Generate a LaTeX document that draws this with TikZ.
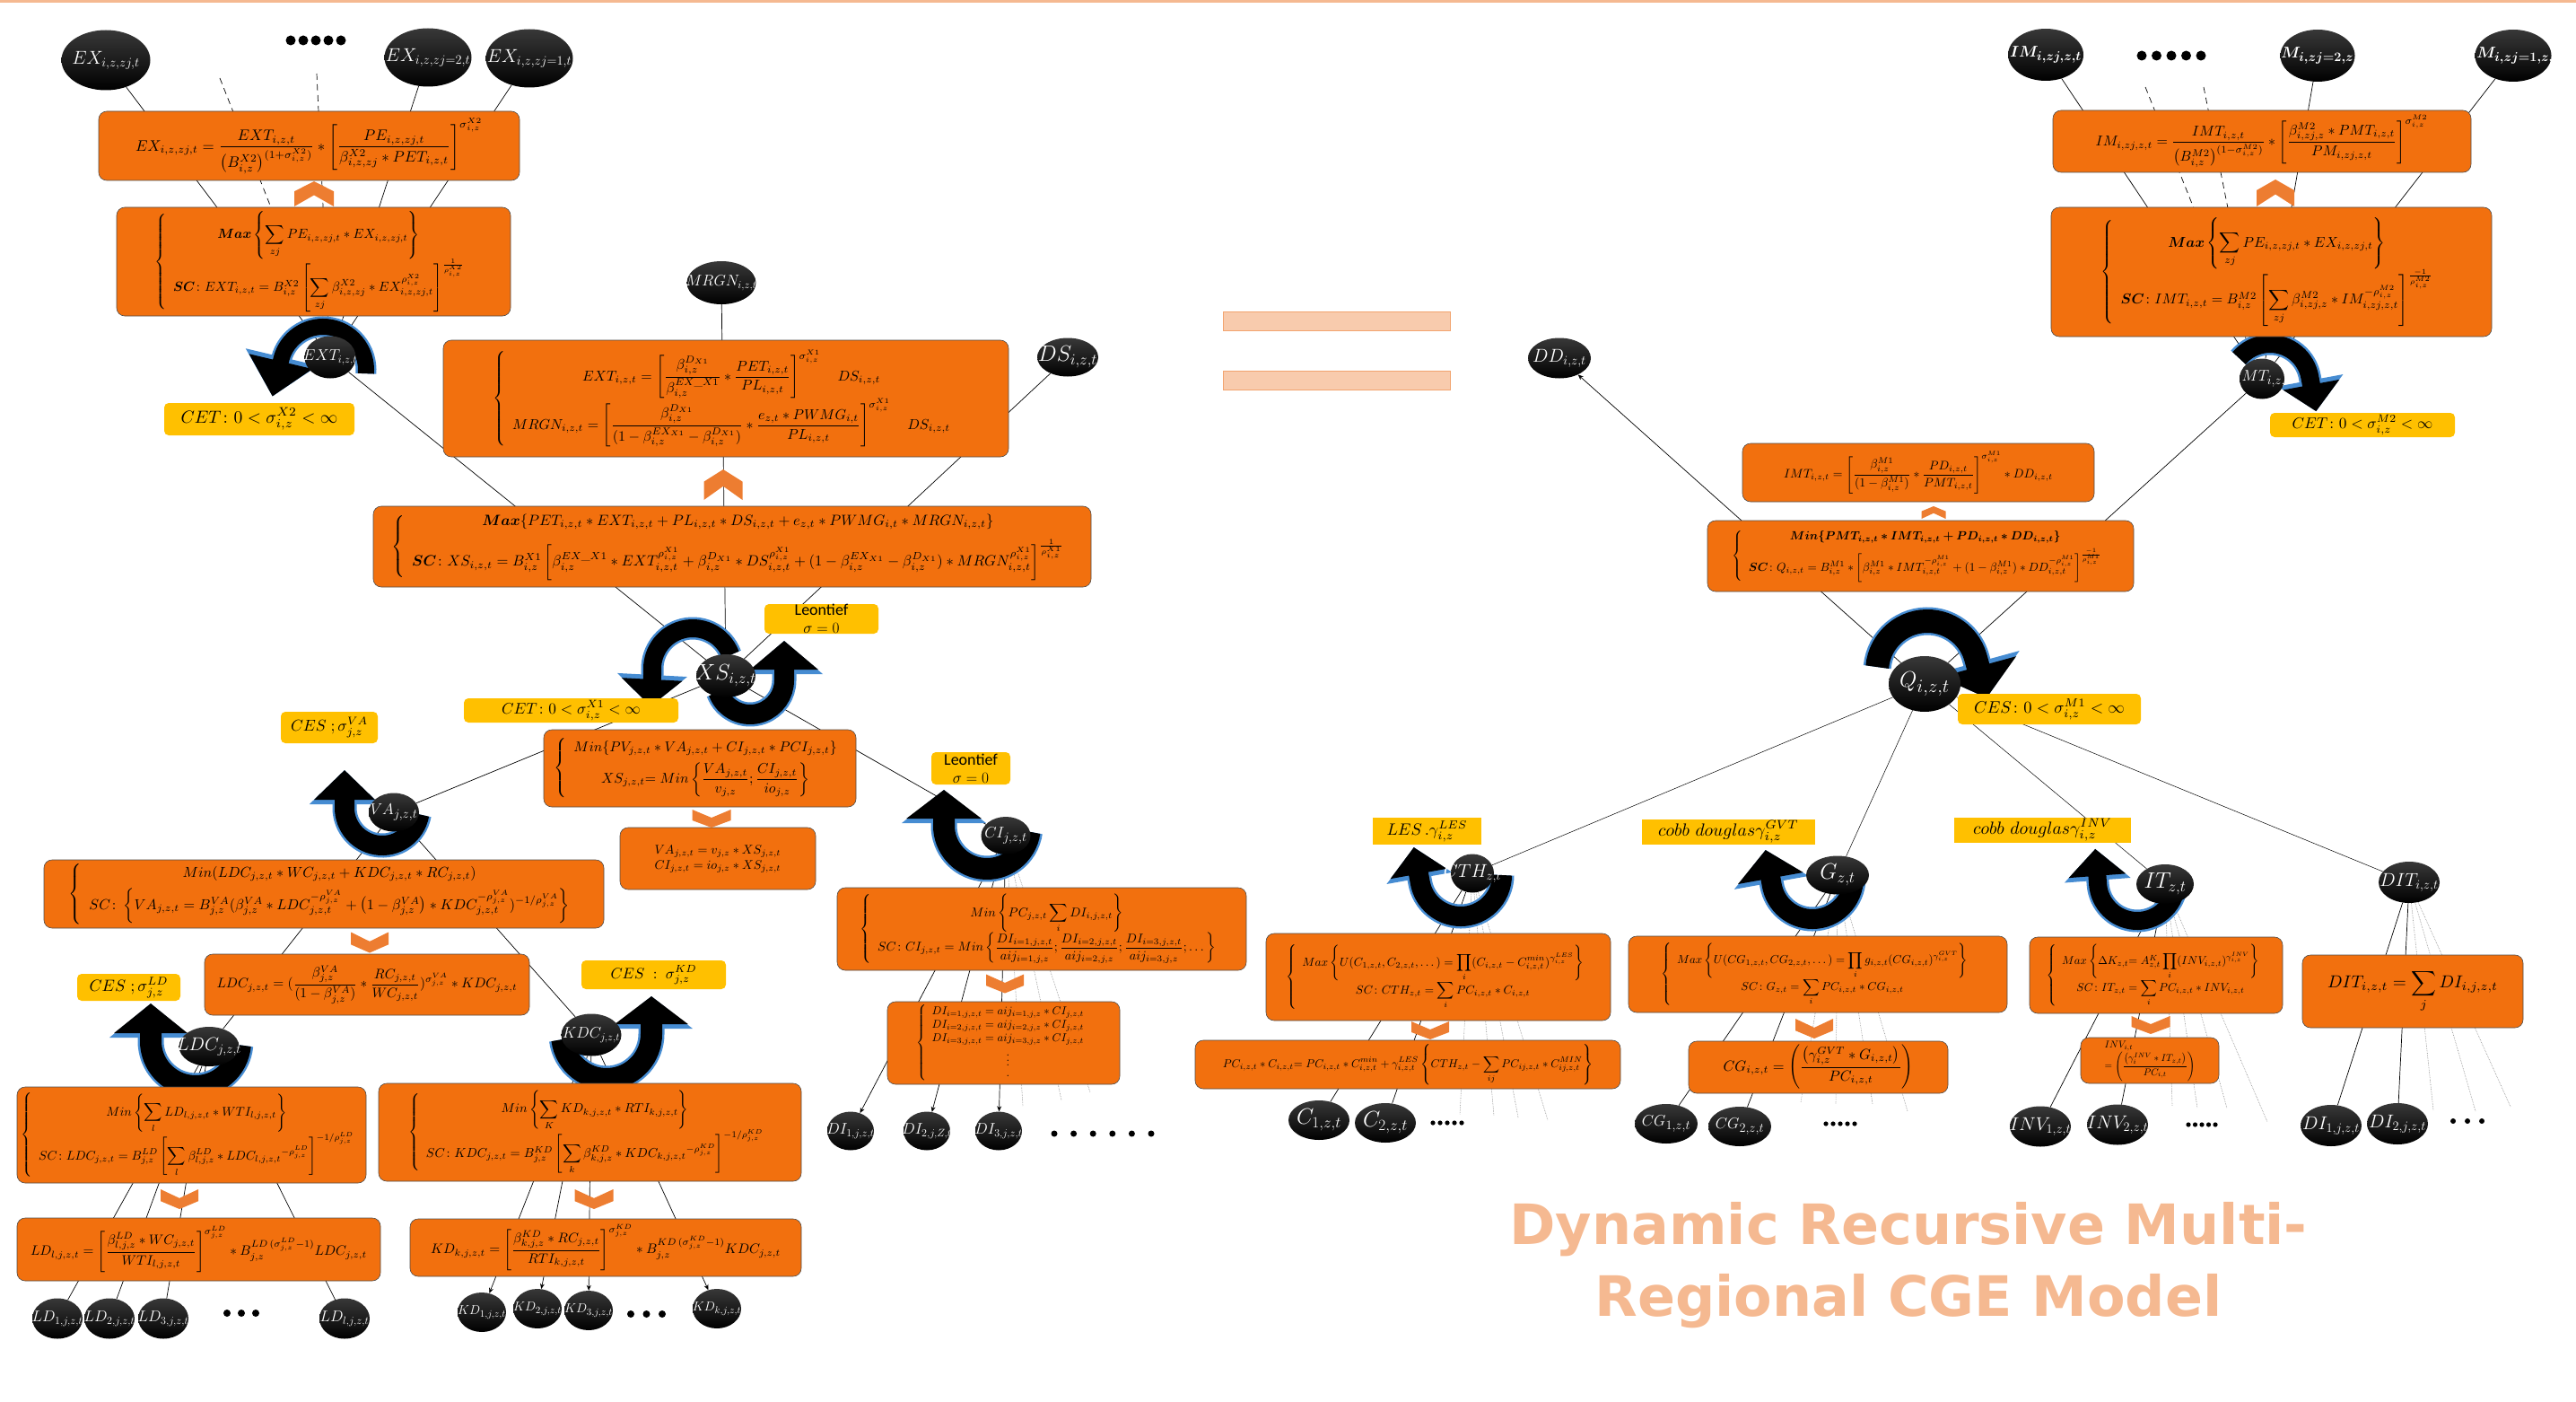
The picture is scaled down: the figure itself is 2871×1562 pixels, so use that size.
\documentclass[tikz,border=0pt]{standalone}
\usepackage{amsmath,bm}
\usepackage{fontspec}
\newfontfamily\carlito{Carlito}
\newfontfamily\titlefont{DejaVu Sans}
\usetikzlibrary{shapes.geometric,arrows.meta,positioning}

\definecolor{boxorange}{RGB}{242,112,14}
\definecolor{tagyellow}{RGB}{255,192,0}
\definecolor{chevorange}{RGB}{237,125,49}
\definecolor{peach}{RGB}{245,185,145}
\definecolor{peachfill}{RGB}{248,203,173}
\definecolor{turnblue}{RGB}{70,140,210}

\pgfdeclarelayer{bg}
\pgfdeclarelayer{mid}
\pgfsetlayers{bg,mid,main}

% formula scaled into a box of given width/height
\newsavebox\eqsave
\newcommand\fw[3]{%
  \sbox\eqsave{$\displaystyle#3$}%
  \pgfmathsetmacro\eqscale{min(#1/\the\wd\eqsave,#2/(\the\ht\eqsave+\the\dp\eqsave))}%
  \scalebox{\eqscale}{\usebox\eqsave}}

% thick turning arrow with a blue rim
\newcommand\turnarrow[4]{%
  \pgfmathsetmacro\tbw{#1+5}\pgfmathsetmacro\tal{#2+5}\pgfmathsetmacro\taw{#3+10}%
  \begin{pgfonlayer}{mid}
  \draw[turnblue, line width=\tbw pt, -{Triangle[length=\tal pt, width=\taw pt]}] #4;
  \draw[black, line width=#1pt, -{Triangle[length=#2pt, width=#3pt]}] #4;
  \end{pgfonlayer}}

\tikzset{%
  eqbox/.style={draw=black!70, fill=boxorange, rounded corners=9pt, line width=0.6pt, inner sep=0pt},
  tag/.style={fill=tagyellow, rounded corners=5pt, inner sep=0pt},
  tagsq/.style={fill=tagyellow, inner sep=0pt},
  blob/.style={ellipse, inner sep=0pt, top color=black!78, middle color=black, bottom color=black},
  lbl/.style={text=white, inner sep=0pt, font=\fontsize{#1}{#1}\selectfont},
  link/.style={line width=0.7pt},
  faint/.style={densely dotted, gray, line width=0.6pt},
  chevron/.pic={\fill[chevorange] (-0.5,0.5) -- (-0.5,-0.1) -- (0,-0.5) -- (0.5,-0.1) -- (0.5,0.5) -- (0,0.05) -- cycle;},
}

\begin{document}
\begin{tikzpicture}[x=1pt, y=-1pt, >={Stealth[length=6pt, width=5pt]}]
\useasboundingbox (0,0) rectangle (2871,1562);
\draw[peach, line width=3pt] (0,1.5) -- (2871,1.5);

% export side
\node[blob, minimum width=99, minimum height=67, label={[lbl=21]center:$EX_{i,z,zj,t}$}] (ex1) at (118,67) {};
\node[blob, minimum width=97, minimum height=65, label={[lbl=21]center:$EX_{i,z,zj=2,t}$}] (ex2) at (477,64) {};
\node[blob, minimum width=97, minimum height=65, label={[lbl=21]center:$EX_{i,z,zj=1,t}$}] (ex3) at (590,65) {};
\coordinate (exdash1) at (245,87);
\coordinate (exdash2) at (353,82);
\node[blob, minimum width=57, minimum height=47, label={[lbl=18]center:$EXT_{i,z,t}$}] (ext) at (368,398) {};
\node[blob, minimum width=77, minimum height=48, label={[lbl=18]center:$MRGN_{i,z,t}$}] (mrgn) at (804,315) {};
\node[blob, minimum width=68, minimum height=43, label={[lbl=23]center:$DS_{i,z,t}$}] (ds) at (1190,398) {};
\node[blob, minimum width=66, minimum height=48, label={[lbl=23]center:$XS_{i,z,t}$}] (xs) at (809,753) {};
\node[blob, minimum width=56, minimum height=43, label={[lbl=19]center:$VA_{j,z,t}$}] (va) at (439,905) {};
\node[blob, minimum width=55, minimum height=42, label={[lbl=19]center:$CI_{j,z,t}$}] (ci) at (1121,931) {};
\node[blob, minimum width=67, minimum height=44, label={[lbl=20]center:$LDC_{j,z,t}$}] (ldc) at (233,1166) {};
\node[blob, minimum width=67, minimum height=47, label={[lbl=18]center:$KDC_{j,z,t}$}] (kdc) at (659,1153) {};

\foreach \n/\x/\k in {ld1/64/1, ld2/122/2, ld3/182/3, ld4/384/l}
  \node[blob, minimum width=56, minimum height=45, label={[lbl=17]center:$LD_{\k,j,z,t}$}] (\n) at (\x,1469) {};
\foreach \n/\x/\y/\k in {kd1/537/1462/1, kd2/599/1458/2, kd3/656/1460/3, kd4/799/1458/k}
  \node[blob, minimum width=54, minimum height=44, label={[lbl=15]center:$KD_{\k,j,z,t}$}] (\n) at (\x,\y) {};
\foreach \n/\x/\k/\zz in {di1/948/1/z, di2/1033/2/Z, di3/1113/3/z}
  \node[blob, minimum width=52, minimum height=43, label={[lbl=18]center:$DI_{\k,j,\zz,t}$}] (\n) at (\x,1260) {};
\coordinate (cidot1) at (1140,1232);
\coordinate (cidot2) at (1183,1226);
\coordinate (cidot3) at (1215,1217);

\node[eqbox, minimum width=469, minimum height=77] (exbox) at (344.5,162.5) {\fw{387}{62}{EX_{i,z,zj,t}=\frac{EXT_{i,z,t}}{\left(B^{X2}_{i,z}\right)^{(1+\sigma^{X2}_{i,z})}}*\left[\frac{PE_{i,z,zj,t}}{\beta^{X2}_{i,z,zj}*PET_{i,z,t}}\right]^{\sigma^{X2}_{i,z}}}};
\node[eqbox, minimum width=439, minimum height=121] (exmax) at (349.5,291.5) {\fw{375}{112}{\left\{\begin{array}{c}\bm{Max}\left\{\displaystyle\sum_{zj}PE_{i,z,zj,t}*EX_{i,z,zj,t}\right\}\\[6pt] \bm{SC}\colon EXT_{i,z,t}=B^{X2}_{i,z}\left[\displaystyle\sum_{zj}\beta^{X2}_{i,z,zj}*EX^{\rho^{X2}_{i,z}}_{i,z,zj,t}\right]^{\frac{1}{\rho^{X2}_{i,z}}}\end{array}\right.}};
\node[eqbox, minimum width=630, minimum height=130] (mrgnbox) at (809,444) {\fw{520}{118}{\left\{\begin{array}{c}EXT_{i,z,t}=\left[\dfrac{\beta^{D_{X1}}_{i,z}}{\beta^{EX\_X1}_{i,z}}*\dfrac{PET_{i,z,t}}{PL_{i,z,t}}\right]^{\sigma^{X1}_{i,z}}\quad DS_{i,z,t}\\[8pt] MRGN_{i,z,t}=\left[\dfrac{\beta^{D_{X1}}_{i,z}}{(1-\beta^{EX_{X1}}_{i,z}-\beta^{D_{X1}}_{i,z})}*\dfrac{e_{z,t}*PWMG_{i,t}}{PL_{i,z,t}}\right]^{\sigma^{X1}_{i,z}}\quad DS_{i,z,t}\end{array}\right.}};
\node[eqbox, minimum width=800, minimum height=90] (xsmax) at (816,609) {\fw{760}{80}{\left\{\begin{array}{c}\bm{Max}\{PET_{i,z,t}*EXT_{i,z,t}+PL_{i,z,t}*DS_{i,z,t}+e_{z,t}*PWMG_{i,t}*MRGN_{i,z,t}\}\\[6pt] \bm{SC}\colon XS_{i,z,t}=B^{X1}_{i,z}\left[\beta^{EX\_X1}_{i,z}*EXT^{\rho^{X1}_{i,z}}_{i,z,t}+\beta^{D_{X1}}_{i,z}*DS^{\rho^{X1}_{i,z}}_{i,z,t}+(1-\beta^{EX_{X1}}_{i,z}-\beta^{D_{X1}}_{i,z})*MRGN^{\rho^{X1}_{i,z}}_{i,z,t}\right]^{\frac{1}{\rho^{X1}_{i,z}}}\end{array}\right.}};
\node[eqbox, minimum width=348, minimum height=86] (xsmin) at (780,856) {\fw{325}{76}{\left\{\begin{array}{c}Min\{PV_{j,z,t}*VA_{j,z,t}+CI_{j,z,t}*PCI_{j,z,t}\}\\[4pt] XS_{j,z,t}{=}\;Min\left\{\dfrac{VA_{j,z,t}}{v_{j,z}};\dfrac{CI_{j,z,t}}{io_{j,z}}\right\}\end{array}\right.}};
\node[eqbox, minimum width=218, minimum height=69] (vacibox) at (800,956.5) {\fw{155}{45}{\begin{array}{c}VA_{j,z,t}=v_{j,z}*XS_{j,z,t}\\ CI_{j,z,t}=io_{j,z}*XS_{j,z,t}\end{array}}};
\node[eqbox, minimum width=624, minimum height=76] (vamin) at (361,996) {\fw{575}{68}{\left\{\begin{array}{c}Min(LDC_{j,z,t}*WC_{j,z,t}+KDC_{j,z,t}*RC_{j,z,t})\\[4pt] SC\colon\left\{VA_{j,z,t}=B^{VA}_{j,z}(\beta^{VA}_{j,z}*LDC^{-\rho^{VA}_{j,z}}_{j,z,t}+\left(1-\beta^{VA}_{j,z}\right)*KDC^{-\rho^{VA}_{j,z}}_{j,z,t})^{-1/\rho^{VA}_{j,z}}\right\}\end{array}\right.}};
\node[eqbox, minimum width=362, minimum height=68] (ldcbox) at (409,1097) {\fw{335}{60}{LDC_{j,z,t}=(\frac{\beta^{VA}_{j,z}}{(1-\beta^{VA}_{j,z})}*\frac{RC_{j,z,t}}{WC_{j,z,t}})^{\sigma^{VA}_{j,z}}*KDC_{j,z,t}}};
\node[eqbox, minimum width=389, minimum height=107] (ldcmin) at (213.5,1264.5) {\fw{380}{98}{\left\{\begin{array}{c}Min\left\{\displaystyle\sum_{l}LD_{l,j,z,t}*WTI_{l,j,z,t}\right\}\\[6pt] SC\colon LDC_{j,z,t}=B^{LD}_{j,z}\left[\displaystyle\sum_{l}\beta^{LD}_{l,j,z}*LDC_{l,j,z,t}{}^{-\rho^{LD}_{j,z}}\right]^{-1/\rho^{LD}_{j,z}}\end{array}\right.}};
\node[eqbox, minimum width=471, minimum height=109] (kdcmin) at (657.5,1261.5) {\fw{405}{98}{\left\{\begin{array}{c}Min\left\{\displaystyle\sum_{K}KD_{k,j,z,t}*RTI_{k,j,z,t}\right\}\\[6pt] SC\colon KDC_{j,z,t}=B^{KD}_{j,z}\left[\displaystyle\sum_{k}\beta^{KD}_{k,j,z}*KDC_{k,j,z,t}{}^{-\rho^{KD}_{j,z}}\right]^{-1/\rho^{KD}_{j,z}}\end{array}\right.}};
\node[eqbox, minimum width=405, minimum height=70] (ldbox) at (221.5,1392) {\fw{375}{62}{LD_{l,j,z,t}=\left[\frac{\beta^{LD}_{l,j,z}*WC_{j,z,t}}{WTI_{l,j,z,t}}\right]^{\sigma^{LD}_{j,z}}*B^{LD\,(\sigma^{LD}_{j,z}-1)}_{j,z}LDC_{j,z,t}}};
\node[eqbox, minimum width=436, minimum height=64] (kdbox) at (675,1390) {\fw{390}{56}{KD_{k,j,z,t}=\left[\frac{\beta^{KD}_{k,j,z}*RC_{j,z,t}}{RTI_{k,j,z,t}}\right]^{\sigma^{KD}_{j,z}}*B^{KD\,(\sigma^{KD}_{j,z}-1)}_{j,z}KDC_{j,z,t}}};
\node[eqbox, minimum width=456, minimum height=92] (cimin) at (1161,1035) {\fw{405}{82}{\left\{\begin{array}{c}Min\left\{PC_{j,z,t}\displaystyle\sum_{i}DI_{i,j,z,t}\right\}\\[4pt] SC\colon CI_{j,z,t}=Min\left\{\dfrac{DI_{i=1,j,z,t}}{aij_{i=1,j,z}};\dfrac{DI_{i=2,j,z,t}}{aij_{i=2,j,z}};\dfrac{DI_{i=3,j,z,t}}{aij_{i=3,j,z}};\dots\right\}\end{array}\right.}};
\node[eqbox, minimum width=259, minimum height=92] (dibox) at (1118.5,1162) {\fw{195}{86}{\left\{\begin{array}{r@{\;=\;}l}DI_{i=1,j,z,t}&aij_{i=1,j,z}*CI_{j,z,t}\\ DI_{i=2,j,z,t}&aij_{i=2,j,z}*CI_{j,z,t}\\ DI_{i=3,j,z,t}&aij_{i=3,j,z}*CI_{j,z,t}\\[2pt] \multicolumn{2}{c}{\vdots}\\[-2pt] \multicolumn{2}{c}{.}\end{array}\right.}};

\node[tag, minimum width=212, minimum height=36] (cetx2) at (289,467) {\fw{175}{28}{CET\colon 0<\sigma^{X2}_{i,z}<\infty}};
\node[tag, minimum width=127, minimum height=33, align=center, font=\fontsize{18}{20}\selectfont] (leon1) at (915.5,689.5) {{\carlito Leontief}\\$\sigma=0$};
\node[tag, minimum width=239, minimum height=27] (cetx1) at (636.5,791.5) {\fw{172}{22}{CET\colon 0<\sigma^{X1}_{i,z}<\infty}};
\node[tag, minimum width=108, minimum height=35] (cesva) at (367,810.5) {\fw{86}{28}{CES\;;\sigma^{VA}_{j,z}}};
\node[tag, minimum width=88, minimum height=36, align=center, font=\fontsize{18}{20}\selectfont] (leon2) at (1082,856) {{\carlito Leontief}\\$\sigma=0$};
\node[tag, minimum width=115, minimum height=30] (cesld) at (143.5,1100) {\fw{88}{26}{CES\;;\sigma^{LD}_{j,z}}};
\node[tag, minimum width=161, minimum height=32] (ceskd) at (728.5,1086) {\fw{96}{28}{CES\;:\;\sigma^{KD}_{j,z}}};

% import side
\node[blob, minimum width=84, minimum height=58, label={[lbl=19]center:$\bm{IM_{i,zj,z,t}}$}] (im1) at (2280,61) {};
\node[blob, minimum width=83, minimum height=58, label={[lbl=19]center:$\bm{IM_{i,zj=2,z,t}}$}] (im2) at (2583,62) {};
\node[blob, minimum width=85, minimum height=58, label={[lbl=19]center:$\bm{IM_{i,zj=1,z,t}}$}] (im3) at (2801,62) {};
\coordinate (imdash1) at (2391,97);
\coordinate (imdash2) at (2456,97);
\node[blob, minimum width=50, minimum height=45, label={[lbl=19]center:$IMT_{i,z,t}$}] (imt) at (2521,422) {};
\node[blob, minimum width=70, minimum height=45, label={[lbl=21]center:$DD_{i,z,t}$}] (dd) at (1738,399) {};
\node[blob, minimum width=80, minimum height=62, label={[lbl=30]center:$Q_{i,z,t}$}] (q) at (2145,762) {};
\node[blob, minimum width=48, minimum height=43, label={[lbl=21]center:$CTH_{z,t}$}] (cth) at (1641,973) {};
\node[blob, minimum width=70, minimum height=43, label={[lbl=27]center:$G_{z,t}$}] (g) at (2048,975) {};
\node[blob, minimum width=64, minimum height=44, label={[lbl=25]center:$IT_{z,t}$}] (it) at (2413,985) {};
\node[blob, minimum width=68, minimum height=46, label={[lbl=20]center:$DIT_{i,z,t}$}] (dit) at (2685,983) {};

\foreach \n/\x/\y/\k in {c1/1470/1248/1, c2/1544/1251/2}
  \node[blob, minimum width=68, minimum height=44, label={[lbl=24]center:$C_{\k,z,t}$}] (\n) at (\x,\y) {};
\foreach \n/\x/\y/\k in {cg1/1857/1252/1, cg2/1939/1255/2}
  \node[blob, minimum width=70, minimum height=44, label={[lbl=19]center:$CG_{\k,z,t}$}] (\n) at (\x,\y) {};
\foreach \n/\x/\y/\k in {inv1/2274/1255/1, inv2/2360/1253/2}
  \node[blob, minimum width=68, minimum height=45, label={[lbl=20]center:$INV_{\k,z,t}$}] (\n) at (\x,\y) {};
\foreach \n/\x/\y/\k in {dr1/2598/1254/1, dr2/2672/1252/2}
  \node[blob, minimum width=68, minimum height=46, label={[lbl=20]center:$DI_{\k,j,z,t}$}] (\n) at (\x,\y) {};

\foreach \n/\x/\y in {cthdot1/1627/1242, cthdot2/1665/1243, cthdot3/1692/1245, cthdot4/1725/1248,
                      gdot1/2007/1228, gdot2/2046/1230, gdot3/2087/1230, gdot4/2126/1238,
                      itdot1/2421/1232, itdot2/2449/1235, itdot3/2482/1235, itdot4/2527/1250,
                      ditdot1/2712/1237, ditdot2/2759/1238, ditdot3/2798/1233}
  \coordinate (\n) at (\x,\y);

\node[eqbox, minimum width=466, minimum height=69] (imbox) at (2521,157.5) {\fw{396}{58}{IM_{i,zj,z,t}=\frac{IMT_{i,z,t}}{\left(B^{M2}_{i,z}\right)^{(1-\sigma^{M2}_{i,z})}}*\left[\frac{\beta^{M2}_{i,zj,z}*PMT_{i,z,t}}{PM_{i,zj,z,t}}\right]^{\sigma^{M2}_{i,z}}}};
\node[eqbox, minimum width=491, minimum height=144] (immax) at (2531.5,303) {\fw{380}{122}{\left\{\begin{array}{c}\bm{Max}\left\{\displaystyle\sum_{zj}PE_{i,z,zj,t}*EX_{i,z,zj,t}\right\}\\[8pt] \bm{SC}\colon IMT_{i,z,t}=B^{M2}_{i,z}\left[\displaystyle\sum_{zj}\beta^{M2}_{i,zj,z}*IM^{-\rho^{M2}_{i,z}}_{i,zj,z,t}\right]^{\frac{-1}{\rho^{M2}_{i,z}}}\end{array}\right.}};
\node[eqbox, minimum width=392, minimum height=65] (imtbox) at (2138,526.5) {\fw{300}{56}{IMT_{i,z,t}=\left[\frac{\beta^{M1}_{i,z}}{(1-\beta^{M1}_{i,z})}*\frac{PD_{i,z,t}}{PMT_{i,z,t}}\right]^{\sigma^{M1}_{i,z}}*DD_{i,z,t}}};
\node[eqbox, minimum width=475, minimum height=79] (qmin) at (2140.5,619.5) {\fw{420}{70}{\left\{\begin{array}{c}\bm{Min\{PMT_{i,z,t}*IMT_{i,z,t}+PD_{i,z,t}*DD_{i,z,t}\}}\\[4pt] \bm{SC}\colon Q_{i,z,t}=B^{M1}_{i,z}*\left[\beta^{M1}_{i,z}*IMT^{-\rho^{M1}_{i,z}}_{i,z,t}+(1-\beta^{M1}_{i,z})*DD^{-\rho^{M1}_{i,z}}_{i,z,t}\right]^{\frac{-1}{\rho^{M1}_{i,z}}}\end{array}\right.}};
\node[eqbox, minimum width=384, minimum height=97] (cthmax) at (1603,1088.5) {\fw{340}{86}{\left\{\begin{array}{c}Max\left\{U(C_{1,z,t},C_{2,z,t},\dots)=\displaystyle\prod_{i}(C_{i,z,t}-C^{min}_{i,z,t})^{\gamma^{LES}_{i,z}}\right\}\\[4pt] SC\colon CTH_{z,t}=\displaystyle\sum_{i}PC_{i,z,t}*C_{i,z,t}\end{array}\right.}};
\node[eqbox, minimum width=474, minimum height=54] (pcbox) at (1569,1186) {\fw{432}{46}{PC_{i,z,t}*C_{i,z,t}{=}\;PC_{i,z,t}*C^{min}_{i,z,t}+\gamma^{LES}_{i,z,t}\left\{CTH_{z,t}-\displaystyle\sum_{ij}PC_{ij,z,t}*C^{MIN}_{ij,z,t}\right\}}};
\node[eqbox, minimum width=422, minimum height=85] (gmax) at (2026,1085.5) {\fw{350}{76}{\left\{\begin{array}{c}Max\left\{U(CG_{1,z,t},CG_{2,z,t},\dots)=\displaystyle\prod_{i}g_{i,z,t}(CG_{i,z,t})^{\gamma^{GVT}_{i,z}}\right\}\\[4pt] SC\colon G_{z,t}=\displaystyle\sum_{i}PC_{i,z,t}*CG_{i,z,t}\end{array}\right.}};
\node[eqbox, minimum width=289, minimum height=58] (cgbox) at (2026.5,1189) {\fw{212}{50}{CG_{i,z,t}=\left(\frac{\left(\gamma^{GVT}_{i,z}*G_{i,z,t}\right)}{PC_{i,z,t}}\right)}};
\node[eqbox, minimum width=282, minimum height=85] (itmax) at (2403,1086.5) {\fw{245}{76}{\left\{\begin{array}{c}Max\left\{\Delta K_{z,t}{=}\;A^{K}_{z,t}\displaystyle\prod_{i}(INV_{i,z,t})^{\gamma^{INV}_{i,z}}\right\}\\[4pt] SC\colon IT_{z,t}=\displaystyle\sum_{i}PC_{i,z,t}*INV_{i,z,t}\end{array}\right.}};
\node[eqbox, minimum width=154, minimum height=51] (invbox) at (2396,1181.5) {\fw{125}{46}{\begin{array}{l}INV_{i,t}\\ =\left(\dfrac{\left(\gamma^{INV}_{i}*IT_{z,t}\right)}{PC_{i,t}}\right)\end{array}}};
\node[eqbox, minimum width=246, minimum height=81] (ditbox) at (2689,1104.5) {\fw{190}{64}{DIT_{i,z,t}=\sum_{j}DI_{i,j,z,t}}};

\node[tag, minimum width=206, minimum height=27] (cetm2) at (2633,473.5) {\fw{172}{22}{CET\colon 0<\sigma^{M2}_{i,z}<\infty}};
\node[tag, minimum width=204, minimum height=34] (cesm1) at (2284,790) {\fw{168}{28}{CES\colon 0<\sigma^{M1}_{i,z}<\infty}};
\node[tagsq, minimum width=121, minimum height=30] (les) at (1590.5,926) {\fw{90}{26}{LES\,.\gamma^{LES}_{i,z}}};
\node[tagsq, minimum width=193, minimum height=28] (cobbg) at (1926.5,927) {\fw{185}{25}{cobb\ douglas\gamma^{GVT}_{i,z}}};
\node[tagsq, minimum width=197, minimum height=28] (cobbi) at (2276.5,925) {\fw{185}{25}{cobb\ douglas\gamma^{INV}_{i,z}}};

% chevrons
\foreach \cx/\cy/\cw/\ch in {350/216/44/28, 806/540/43/34, 2536/215/42/30, 2155/571/27/14}
  \pic[xscale=\cw, yscale=\ch] at (\cx,\cy) {chevron};
\foreach \cx/\cy/\cw/\ch in {793/912/43/20, 412/1050/42/23, 200/1336/42/22, 662/1336/43/22, 1120/1096/42/21, 1594/1148/42/20, 2022/1146/42/22, 2397/1142/43/20}
  \pic[xscale=\cw, yscale=-\ch] at (\cx,\cy) {chevron};

% dots
\foreach \x/\y/\n/\s/\r in {324/45/4/14/5.5, 2387/62/4/16.5/5.5, 1175/1263/5/21.6/3.5, 253/1463/2/16/4, 703/1464/2/17.5/4, 1597/1251/4/8/2.6, 2035/1252/4/8/2.6, 2439/1253/4/7.5/2.6, 2734/1249/2/16/3}
  \foreach \k in {0,...,\n}
    \fill (\x+\k*\s,\y) circle[radius=\r];

% equal sign and title
\filldraw[fill=peachfill, draw=chevorange!70, line width=1pt] (1363,347) rectangle (1616,368);
\filldraw[fill=peachfill, draw=chevorange!70, line width=1pt] (1363,413) rectangle (1616,434);
\node[font=\titlefont\bfseries\fontsize{62}{80}\selectfont, text=peach, align=center] (title) at (2127,1410) {Dynamic Recursive Multi-\\Regional CGE Model};

% turning arrows
\turnarrow{18}{40}{70}{(360,412) ++(5:48) arc[start angle=5, end angle=-165, radius=48] -- ++(-10,42)}
\turnarrow{20}{30}{66}{(772,745) ++(-20:45) arc[start angle=-20, end angle=-185, radius=45] -- ++(-2,38)}
\turnarrow{22}{32}{74}{(836,758) ++(-200:38) arc[start angle=-200, end angle=-360, radius=38] -- ++(0,-44)}
\turnarrow{22}{33}{66}{(426,900) ++(10:42) arc[start angle=10, end angle=180, radius=42] -- ++(0,-42)}
\turnarrow{24}{32}{82}{(1100,920) ++(8:48) arc[start angle=8, end angle=180, radius=48] -- ++(0,-40)}
\turnarrow{24}{33}{80}{(218,1160) ++(5:50) arc[start angle=5, end angle=180, radius=50] -- ++(0,-42)}
\turnarrow{24}{31}{80}{(676,1152) ++(-187:50) arc[start angle=-187, end angle=-360, radius=50] -- ++(0,-42)}
\turnarrow{22}{30}{62}{(1628,975) ++(0:46) arc[start angle=0, end angle=170, radius=46] -- ++(-7,-39)}
\turnarrow{22}{32}{72}{(2020,978) ++(0:46) arc[start angle=0, end angle=170, radius=46] -- ++(-7,-39)}
\turnarrow{20}{30}{62}{(2382,982) ++(5:44) arc[start angle=5, end angle=175, radius=44] -- ++(-3,-40)}
\turnarrow{20}{30}{62}{(2530,428) ++(-140:45) arc[start angle=-140, end angle=-10, radius=45] -- ++(7,38)}
\turnarrow{26}{36}{86}{(2148,748) ++(-175:56) arc[start angle=-175, end angle=-15, radius=56] -- ++(12,44)}

% connectors
\begin{pgfonlayer}{bg}
\foreach \a in {ex1,ex2,ex3}
  \draw[link] (\a) -- (ext);
\foreach \a in {exdash1,exdash2}
  \draw[link, dash pattern=on 7pt off 5pt] (\a) -- (ext);
\foreach \a in {ext,mrgn,ds}
  \draw[link] (\a) -- (xs);
\foreach \b in {va,ci}
  \draw[link] (xs) -- (\b);
\foreach \b in {ldc,kdc}
  \draw[link] (va) -- (\b);
\foreach \b in {ld1,ld2,ld3,ld4}
  \draw[link] (ldc) -- (\b);
\foreach \b in {kd1,kd2,kd3,kd4}
  \draw[link,->] (kdc) -- (\b);
\foreach \b in {di1,di2,di3}
  \draw[link,->] (ci) -- (\b);
\foreach \b in {cidot1,cidot2,cidot3}
  \draw[faint] (ci) -- (\b);

\foreach \a in {im1,im2,im3}
  \draw[link] (\a) -- (imt);
\foreach \a in {imdash1,imdash2}
  \draw[link, dash pattern=on 7pt off 5pt] (\a) -- (imt);
\draw[link] (imt) -- (q);
\draw[link,->] (q) -- (dd);
\foreach \b in {cth,g,it,dit}
  \draw[link, line width=0.5pt] (q) -- (\b);
\foreach \b in {c1,c2}
  \draw[link] (cth) -- (\b);
\foreach \b in {cg1,cg2}
  \draw[link] (g) -- (\b);
\foreach \b in {inv1,inv2}
  \draw[link] (it) -- (\b);
\foreach \b in {dr1,dr2}
  \draw[link] (dit) -- (\b);
\foreach \b in {cthdot1,cthdot2,cthdot3,cthdot4}
  \draw[faint] (cth) -- (\b);
\foreach \b in {gdot1,gdot2,gdot3,gdot4}
  \draw[faint] (g) -- (\b);
\foreach \b in {itdot1,itdot2,itdot3,itdot4}
  \draw[faint] (it) -- (\b);
\foreach \b in {ditdot1,ditdot2,ditdot3}
  \draw[faint] (dit) -- (\b);
\end{pgfonlayer}
\end{tikzpicture}
\end{document}
